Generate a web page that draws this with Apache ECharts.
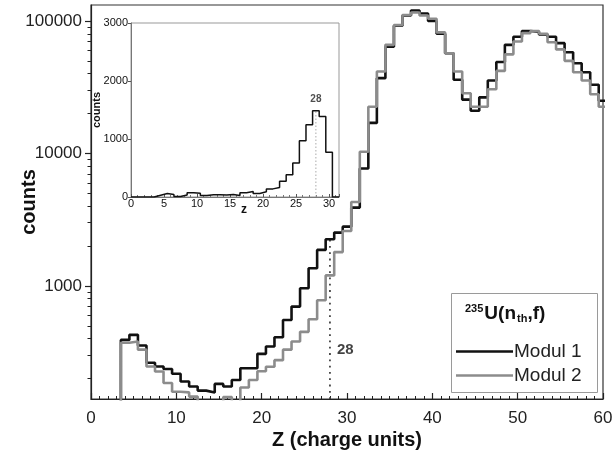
<!DOCTYPE html>
<html>
<head>
<meta charset="utf-8">
<script src="https://cdn.jsdelivr.net/npm/echarts@6/dist/echarts.min.js"></script>
<style>
  html, body { margin: 0; padding: 0; background: #fff; }
  #chart { width: 615px; height: 453px; }
</style>
</head>
<body>
<div id="chart"></div>
<script>
// Fragment charge distribution, one bin per charge unit (bin centres)
const zBins = [4, 5, 6, 7, 8, 9, 10, 11, 12, 13, 14, 15, 16, 17, 18, 19, 20, 21, 22, 23, 24, 25, 26, 27, 28, 29, 30,
               31, 32, 33, 34, 35, 36, 37, 38, 39, 40, 41, 42, 43, 44, 45, 46, 47, 48, 49, 50, 51, 52, 53, 54, 55,
               56, 57, 58, 59, 60];

const modul1 = [391, 427, 355, 263, 246, 236, 217, 190, 174, 162, 157, 182, 174, 195, 239, 239, 307, 349, 410, 553,
                698, 960, 1360, 1870, 2250, 2525, 2800, 3900, 7700, 17000, 37000, 64000, 92000, 110000, 120000,
                114000, 100000, 80000, 57000, 36000, 25500, 21000, 26500, 35500, 49000, 66000, 76000, 84000, 83000,
                79000, 76000, 68000, 58000, 48000, 41000, 33000, 25000];

const modul2 = [372, 380, 330, 246, 226, 185, 159, 157, 146, 120, 120, 120, 145, 120, 171, 195, 227, 245, 275, 330,
                380, 450, 560, 780, 1200, 1800, 2600, 4300, 10300, 22500, 41500, 66000, 93000, 111000, 116000,
                110000, 104000, 82000, 57000, 41500, 28500, 22500, 22500, 30500, 42000, 56000, 70000, 81000, 84000,
                80000, 69000, 61000, 50000, 41000, 35500, 28000, 22500];

// Inset: linear-scale histogram of the light fragments
const insetZ = [4, 5, 6, 7, 8, 9, 10, 11, 12, 13, 14, 15, 16, 17, 18, 19, 20, 21, 22, 23, 24, 25, 26, 27, 28, 29, 30];
const insetCounts = [30, 60, 45, 10, 35, 75, 65, 25, 40, 40, 35, 45, 25, 75, 95, 60, 90, 140, 165, 270, 385, 585,
                     970, 1245, 1485, 1390, 770];

// Axis ticks
const xMainTicks = [0, 10, 20, 30, 40, 50, 60];
const yMajorTicks = [1000, 10000, 100000];
const yMinorTicks = [200, 300, 400, 500, 600, 700, 800, 900,
                     2000, 3000, 4000, 5000, 6000, 7000, 8000, 9000,
                     20000, 30000, 40000, 50000, 60000, 70000, 80000, 90000];
const insetXTicks = [0, 5, 10, 15, 20, 25, 30];
const insetYTicks = [0, 1000, 2000, 3000];

const markZ = 28;
const reaction = '235U(nth,f)';

const Y_MIN = 140, Y_MAX = 132000;
const FONT = '"Liberation Sans", Arial, sans-serif';

// histogram bins -> step-line vertices at the bin edges
function stepPoints(z, v, floor) {
  const pts = [[z[0] - 1.5, floor]];
  for (let i = 0; i < z.length; i++) pts.push([z[i] - 0.5, v[i]]);
  pts.push([z[z.length - 1] + 0.5, v[v.length - 1]]);
  return pts;
}

const insetPts = [[0, 0]].concat(stepPoints(insetZ, insetCounts, 0).slice(1));
insetPts.push([insetZ[insetZ.length - 1] + 0.5, 0], [insetZ[insetZ.length - 1] + 1.5, 0]);

const peak1 = modul1[zBins.indexOf(markZ)];
const insetPeak = insetCounts[insetZ.indexOf(markZ)];

const chart = echarts.init(document.getElementById('chart'), null, { renderer: 'canvas' });

const axisLineDark = { show: true, lineStyle: { color: '#222', width: 1.2 } };

const option = {
  animation: false,
  backgroundColor: '#fff',
  textStyle: { fontFamily: FONT },
  grid: [
    { left: 91, top: 5, right: 12, bottom: 54, show: true, borderColor: '#333', borderWidth: 1.2,
      backgroundColor: 'transparent', outerBoundsMode: 'none' },
    { left: 131, top: 23, width: 208, height: 174, show: true, borderColor: '#999', borderWidth: 1,
      backgroundColor: 'transparent', outerBoundsMode: 'none' }
  ],
  xAxis: [
    {
      type: 'value', gridIndex: 0, min: 0, max: 60, interval: 10,
      name: 'Z (charge units)', nameLocation: 'middle', nameGap: 31, nameMoveOverlap: false,
      nameTextStyle: { fontSize: 20, fontWeight: 'bold', color: '#111', fontFamily: FONT },
      axisLine: axisLineDark,
      axisTick: { show: true, inside: true, length: 6, lineStyle: { color: '#222', width: 1.2 } },
      minorTick: { show: true, splitNumber: 10, length: 3, lineStyle: { color: '#222', width: 1 } },
      axisLabel: { fontSize: 17, color: '#222', margin: 11, fontFamily: FONT,
                   customValues: xMainTicks, formatter: v => String(v) },
      splitLine: { show: false }, minorSplitLine: { show: false }
    },
    {
      type: 'value', gridIndex: 1, min: 0, max: 31.5, interval: 5,
      name: 'z', nameLocation: 'middle', nameGap: 7, nameMoveOverlap: false,
      nameTextStyle: { fontSize: 12, fontWeight: 'bold', color: '#111', fontFamily: FONT, padding: [0, 0, 0, 18] },
      axisLine: { show: true, lineStyle: { color: '#777', width: 1 } },
      axisTick: { show: true, inside: true, length: 3, lineStyle: { color: '#555', width: 1 } },
      minorTick: { show: true, splitNumber: 5, length: 2, lineStyle: { color: '#777', width: 1 } },
      axisLabel: { fontSize: 11, color: '#111', margin: 1, fontFamily: FONT,
                   customValues: insetXTicks, formatter: v => String(v) },
      splitLine: { show: false }
    }
  ],
  yAxis: [
    {
      type: 'log', logBase: 10, gridIndex: 0, min: Y_MIN, max: Y_MAX,
      name: 'counts', nameLocation: 'middle', nameGap: 52, nameRotate: 90, nameMoveOverlap: false,
      nameTextStyle: { fontSize: 20, fontWeight: 'bold', color: '#111', fontFamily: FONT },
      axisLine: axisLineDark,
      axisTick: { show: true, inside: false, length: 6, customValues: yMajorTicks,
                  lineStyle: { color: '#222', width: 1.2 } },
      axisLabel: { fontSize: 17, color: '#222', margin: 9, fontFamily: FONT,
                   customValues: yMajorTicks, formatter: v => String(Math.round(v)) },
      splitLine: { show: false }
    },
    {
      type: 'log', logBase: 10, gridIndex: 0, min: Y_MIN, max: Y_MAX, position: 'left',
      axisLine: { show: false },
      axisTick: { show: true, inside: false, length: 3.5, customValues: yMinorTicks,
                  lineStyle: { color: '#222', width: 1 } },
      axisLabel: { show: false },
      splitLine: { show: false }
    },
    {
      type: 'value', gridIndex: 1, min: 0, max: 3000, interval: 1000,
      name: 'counts', nameLocation: 'middle', nameGap: 29, nameRotate: 90, nameMoveOverlap: false,
      nameTextStyle: { fontSize: 11, fontWeight: 'bold', color: '#111', fontFamily: FONT },
      axisLine: { show: true, lineStyle: { color: '#777', width: 1 } },
      axisTick: { show: true, inside: false, length: 3, lineStyle: { color: '#555', width: 1 } },
      axisLabel: { fontSize: 11, color: '#111', margin: 3, fontFamily: FONT,
                   customValues: insetYTicks, formatter: v => String(v) },
      splitLine: { show: false }
    }
  ],
  legend: {
    data: [{ name: 'Modul 1', icon: 'rect' }, { name: 'Modul 2', icon: 'rect' }],
    orient: 'vertical', left: 456, top: 342,
    itemWidth: 57, itemHeight: 2.6, itemGap: 5, padding: 0,
    selectedMode: false,
    textStyle: { fontSize: 19, color: '#222', fontFamily: FONT, padding: [0, 0, 0, -4] }
  },
  graphic: [
    { type: 'rect', left: 451, top: 293, shape: { width: 146, height: 99 },
      style: { fill: 'transparent', stroke: '#9a9a9a', lineWidth: 1 }, z: 10 },
    { type: 'text', left: 465, top: 303, z: 10,
      style: {
        text: '{sup|' + reaction.slice(0, 3) + '}{b|' + reaction.slice(3, 6) + '}{sub|' + reaction.slice(6, 8) +
              '}{b|' + reaction.slice(8) + '}',
        rich: {
          sup: { fontSize: 11, fontWeight: 'bold', fill: '#111', fontFamily: FONT, verticalAlign: 'top', padding: [0, 1, 10, 0] },
          b: { fontSize: 19, fontWeight: 'bold', fill: '#111', fontFamily: FONT },
          sub: { fontSize: 11, fontWeight: 'bold', fill: '#111', fontFamily: FONT, verticalAlign: 'bottom', padding: [10, 0, 0, 1] }
        }
      } }
  ],
  series: [
    {
      name: 'Modul 1', type: 'line', xAxisIndex: 0, yAxisIndex: 0, step: 'end',
      data: stepPoints(zBins, modul1, 1), symbol: 'none', clip: true, z: 3,
      lineStyle: { color: '#111', width: 2.6 }, itemStyle: { color: '#111' }
    },
    {
      name: 'Modul 2', type: 'line', xAxisIndex: 0, yAxisIndex: 0, step: 'end',
      data: stepPoints(zBins, modul2, 1), symbol: 'none', clip: true, z: 4,
      lineStyle: { color: '#8c8c8c', width: 2.6 }, itemStyle: { color: '#8c8c8c' }
    },
    {
      name: 'mark', type: 'line', xAxisIndex: 0, yAxisIndex: 0,
      data: [[markZ, Y_MIN], [markZ, peak1]], symbol: 'none', clip: true, z: 2,
      lineStyle: { color: '#444', width: 1.8, type: [1.8, 4.5] }
    },
    {
      name: 'markLabel', type: 'scatter', xAxisIndex: 0, yAxisIndex: 0,
      data: [[markZ, 330]], symbolSize: 0, z: 5,
      label: { show: true, position: 'right', distance: 7, formatter: String(markZ),
               fontSize: 15, fontWeight: 'bold', color: '#111', fontFamily: FONT }
    },
    {
      name: 'inset', type: 'line', xAxisIndex: 1, yAxisIndex: 2, step: 'end',
      data: insetPts, symbol: 'none', clip: true, z: 3,
      lineStyle: { color: '#111', width: 1.5 }
    },
    {
      name: 'insetMark', type: 'line', xAxisIndex: 1, yAxisIndex: 2,
      data: [[markZ, 0], [markZ, insetPeak]],
      symbol: 'none', z: 2,
      lineStyle: { color: '#aaa', width: 1, type: [1.5, 2] }
    },
    {
      name: 'insetMarkLabel', type: 'scatter', xAxisIndex: 1, yAxisIndex: 2,
      data: [[markZ, insetPeak]], symbolSize: 0, z: 5,
      label: { show: true, position: 'top', distance: 7, formatter: String(markZ),
               fontSize: 10, fontWeight: 'bold', color: '#222', fontFamily: FONT }
    }
  ]
};

chart.setOption(option);
</script>
</body>
</html>
